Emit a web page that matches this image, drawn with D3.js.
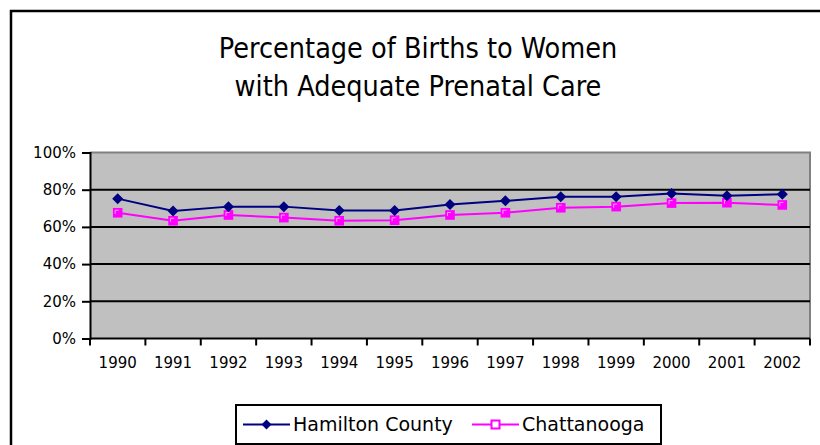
<!DOCTYPE html>
<html><head><meta charset="utf-8">
<script src="https://cdn.jsdelivr.net/npm/d3@7"></script>
<style>body{margin:0;background:#fff}svg{display:block}</style>
</head><body>
<svg id="c" width="820" height="445"></svg>
<script>
const years = ["1990","1991","1992","1993","1994","1995","1996","1997","1998","1999","2000","2001","2002"];
const hamilton = [75.2, 68.6, 70.9, 70.9, 68.8, 68.8, 72.1, 74.0, 76.2, 76.2, 77.9, 76.8, 77.5];
const chattanooga = [67.6, 63.3, 66.4, 65.0, 63.3, 63.6, 66.4, 67.6, 70.3, 70.9, 72.8, 73.0, 71.8];
const yTicks = [0, 20, 40, 60, 80, 100];
const titleLines = ["Percentage of Births to Women", "with Adequate Prenatal Care"];
const seriesNames = ["Hamilton County", "Chattanooga"];

const svg = d3.select("#c");
const font = "'DejaVu Sans', Verdana, sans-serif";

// outer frame
svg.append("rect").attr("x",11).attr("y",11).attr("width",830).attr("height",460)
  .attr("fill","#fff").attr("stroke","#000").attr("stroke-width",2.5);

// title
svg.append("g").selectAll("text").data(titleLines).join("text")
  .attr("x",418).attr("y",(d,i)=>58+i*38)
  .attr("text-anchor","middle").attr("font-family","'DejaVu Sans Condensed', 'Liberation Sans Narrow', 'Open Sans', sans-serif")
  .attr("font-size",28.5).attr("font-weight",300).attr("fill","#000").text(d=>d);

const L=90,R=810,T=152.5,B=338.5;
const x = d3.scaleBand().domain(years).range([L,R]);
const y = d3.scaleLinear().domain([0,100]).range([B,T]);

// plot bg
svg.append("rect").attr("x",L).attr("y",T).attr("width",R-L).attr("height",B-T).attr("fill","#C0C0C0");
svg.append("path").attr("d",`M${L},${T}H${R}V${B}`).attr("fill","none").attr("stroke","#808080").attr("stroke-width",2);

// gridlines
svg.append("g").selectAll("line").data(yTicks.filter(v=>v>0&&v<100)).join("line")
  .attr("x1",L).attr("x2",R).attr("y1",d=>y(d)).attr("y2",d=>y(d))
  .attr("stroke","#000").attr("stroke-width",2);

// axes
const yAxis = svg.append("g").attr("transform",`translate(${L},0)`)
  .call(d3.axisLeft(y).tickValues(yTicks).tickFormat(d=>d+"%").tickSize(8).tickPadding(6));
const xAxis = svg.append("g").attr("transform",`translate(0,${B})`)
  .call(d3.axisBottom(x).tickSize(0).tickPadding(19));
[yAxis,xAxis].forEach(a=>{
  a.attr("font-family",font).attr("font-size",15);
  a.selectAll("path").attr("stroke","#000").attr("stroke-width",2);
  a.selectAll("line").attr("stroke","#000").attr("stroke-width",2);
  a.selectAll("text").attr("font-family",font).attr("font-size",15).attr("fill","#000");
});
xAxis.select("path.domain").attr("d",`M${L},0H${R}`);
// category boundary ticks
const bounds = years.map(d=>x(d)).concat([R]);
svg.append("g").selectAll("line").data(bounds).join("line")
  .attr("x1",d=>d).attr("x2",d=>d).attr("y1",B).attr("y2",B+7)
  .attr("stroke","#000").attr("stroke-width",2);

const cx = d=>x(d)+x.bandwidth()/2;
const line = d3.line().x((v,i)=>cx(years[i])).y(v=>y(v));

function drawSeries(vals,color,kind){
  svg.append("path").datum(vals).attr("d",line).attr("fill","none")
    .attr("stroke",color).attr("stroke-width",2);
  const g = svg.append("g");
  vals.forEach((v,i)=>{
    const px=cx(years[i]), py=y(v);
    if(kind==="d"){
      g.append("path").attr("d",`M${px},${py-5.5}L${px+5.5},${py}L${px},${py+5.5}L${px-5.5},${py}Z`).attr("fill",color);
    } else {
      g.append("rect").attr("x",px-4.8).attr("y",py-4.8).attr("width",9.6).attr("height",9.6).attr("fill",color);
      g.append("path").attr("d",`M${px-2.5},${py+1}V${py-2.5}H${px+1}`).attr("fill","none").attr("stroke","#fff").attr("stroke-width",0.8).attr("opacity",0.8);
    }
  });
}
drawSeries(chattanooga,"#FF00FF","s");
drawSeries(hamilton,"#000080","d");

// legend
const lg = svg.append("g");
lg.append("rect").attr("x",236).attr("y",405).attr("width",425).attr("height",39)
  .attr("fill","#fff").attr("stroke","#000").attr("stroke-width",2);
const items=[{name:seriesNames[0],color:"#000080",kind:"d",x0:243},{name:seriesNames[1],color:"#FF00FF",kind:"s",x0:472}];
items.forEach(it=>{
  const yy=424.5;
  lg.append("line").attr("x1",it.x0).attr("x2",it.x0+47).attr("y1",yy).attr("y2",yy).attr("stroke",it.color).attr("stroke-width",2);
  const mx=it.x0+23.5;
  if(it.kind==="d") lg.append("path").attr("d",`M${mx},${yy-5}L${mx+5},${yy}L${mx},${yy+5}L${mx-5},${yy}Z`).attr("fill",it.color);
  else lg.append("rect").attr("x",mx-4).attr("y",yy-4).attr("width",8).attr("height",8).attr("fill","#fff").attr("stroke",it.color).attr("stroke-width",2);
  lg.append("text").attr("x",it.x0+50).attr("y",yy+6.5).attr("font-family",font).attr("font-size",19).attr("fill","#000").text(it.name);
});
</script>
</body></html>
